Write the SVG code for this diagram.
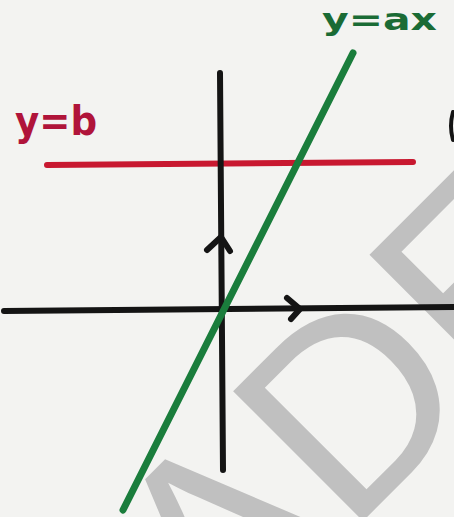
<svg xmlns="http://www.w3.org/2000/svg" width="454" height="517" viewBox="0 0 454 517">
<style>
.ax{fill:none;stroke:#141414;stroke-width:6;stroke-linecap:round;stroke-linejoin:round}
.lbl{font-family:"DejaVu Sans",sans-serif;font-weight:bold}
</style>
<rect x="0" y="0" width="454" height="517" fill="#f3f3f1"/>
<g id="watermark">
<text x="0" y="0" transform="translate(221.6,662.5) rotate(-45)" font-family="Liberation Sans, Arial, sans-serif" font-size="267" fill="#c0c0c0">ADE</text>
</g>
<g id="connectors">
<line id="red-line" x1="47" y1="165" x2="413" y2="162" stroke="#c81830" stroke-width="6" stroke-linecap="round"/>
<line id="x-axis" class="ax" x1="4" y1="311" x2="454" y2="307"/>
<line id="y-axis" class="ax" x1="220" y1="73" x2="223" y2="470"/>
<polyline class="ax" points="207,250 221,237 230,251"/>
<polyline class="ax" points="287,298 300,309 291,319"/>
<line id="green-line" x1="353" y1="53" x2="123" y2="510" stroke="#1a7d3c" stroke-width="7" stroke-linecap="round"/>
<path d="M453,112 Q449,126 453,140" fill="none" stroke="#141414" stroke-width="4" stroke-linecap="round"/>
</g>
<g id="label-yb">
<text class="lbl" x="15" y="135" font-size="40" fill="#b0143a" textLength="82" lengthAdjust="spacingAndGlyphs">y=b</text>
</g>
<g id="label-yax">
<text class="lbl" x="322" y="30" font-size="30" fill="#1a6b35" textLength="115" lengthAdjust="spacingAndGlyphs">y=ax</text>
</g>
</svg>
